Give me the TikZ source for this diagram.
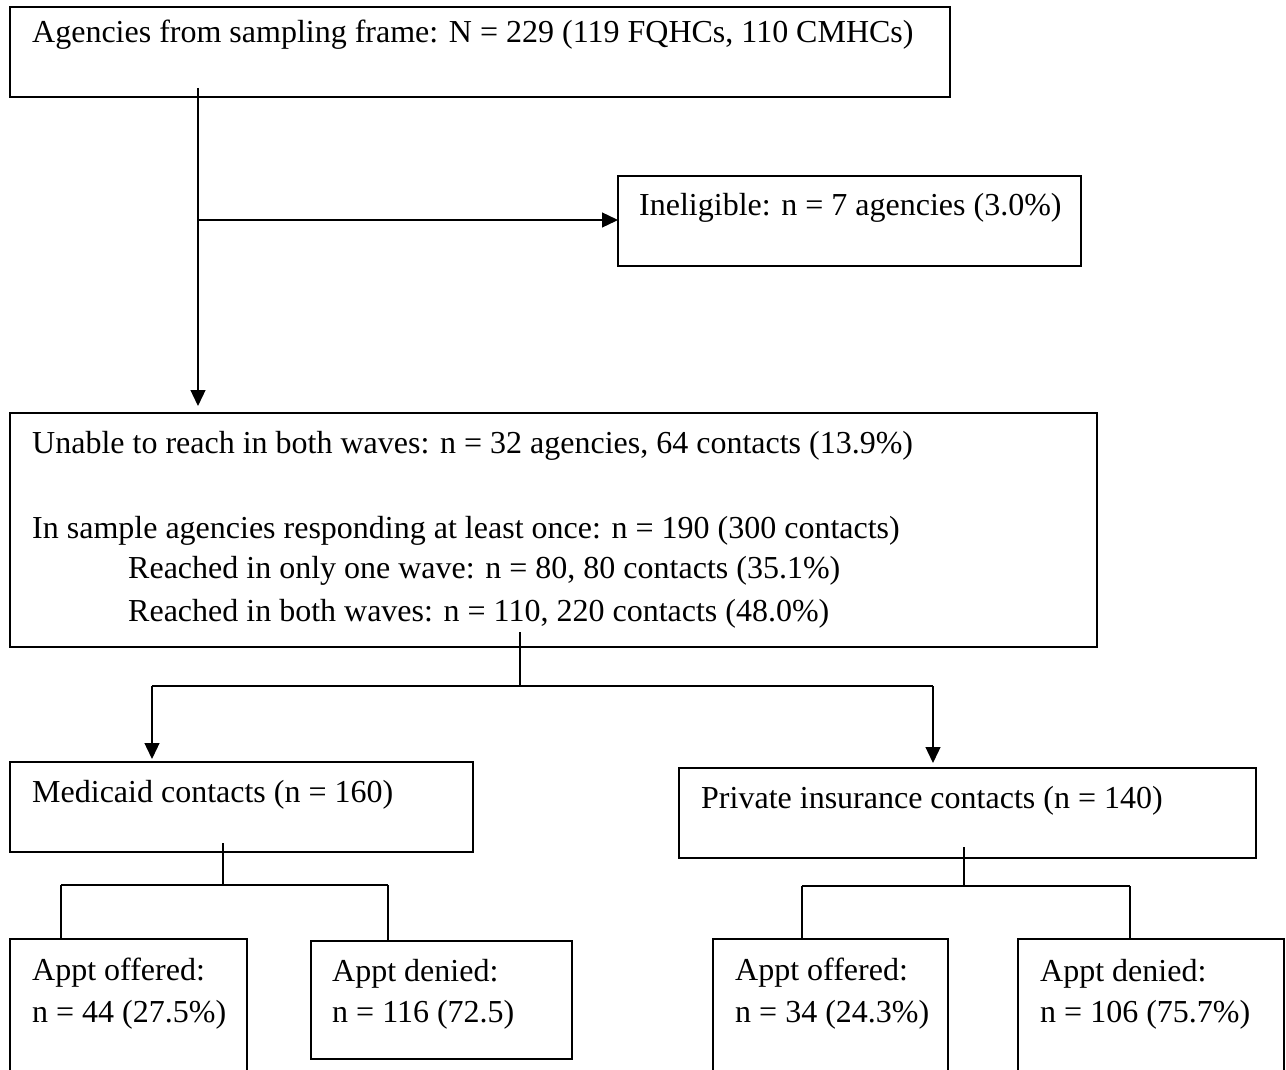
\documentclass[tikz,border=0pt]{standalone}
\usepackage{fontspec}
\setmainfont{Liberation Serif}
\usetikzlibrary{arrows.meta}
\begin{document}
\begin{tikzpicture}[x=1pt,y=-1pt,
  box/.style={draw, line width=2.6pt, rectangle, anchor=north west,
    inner sep=0pt, outer sep=0pt},
  lbl/.style={anchor=base west, inner sep=0pt, font=\fontsize{32}{38}\selectfont},
  link/.style={line width=1.3pt},
  arr/.style={link, -{Triangle[length=16pt,width=15pt]}}]
\useasboundingbox (0,0) rectangle (1286,1070);
\clip (0,0) rectangle (1286,1070);

% boxes
\node[box, minimum width=940pt, minimum height=90pt]  (frame) at (10,7)    {};
\node[box, minimum width=463pt, minimum height=90pt]  (inel)  at (618,176) {};
\node[box, minimum width=1087pt, minimum height=234pt] (reach) at (10,413) {};
\node[box, minimum width=463pt, minimum height=90pt]  (medi)  at (10,762)  {};
\node[box, minimum width=577pt, minimum height=90pt]  (priv)  at (679,768) {};
\node[box, minimum width=237pt, minimum height=160pt] (moff)  at (10,939)  {};
\node[box, minimum width=261pt, minimum height=118pt] (mden)  at (311,941) {};
\node[box, minimum width=235pt, minimum height=160pt] (poff)  at (713,939) {};
\node[box, minimum width=266pt, minimum height=160pt] (pden)  at (1018,939) {};

% texts
\node[lbl] (frameT) at (32,43) {Agencies from sampling frame: N = 229 (119 FQHCs, 110 CMHCs)};
\node[lbl] (inelT) at (639,215) {Ineligible: n = 7 agencies (3.0\%)};
\node[lbl] (reachA) at (32,453) {Unable to reach in both waves: n = 32 agencies, 64 contacts (13.9\%)};
\node[lbl] (reachB) at (32,538) {In sample agencies responding at least once: n = 190 (300 contacts)};
\node[lbl] (reachC) at (128,578) {Reached in only one wave: n = 80, 80 contacts (35.1\%)};
\node[lbl] (reachD) at (128,621) {Reached in both waves: n = 110, 220 contacts (48.0\%)};
\node[lbl] (mediT) at (32,802) {Medicaid contacts (n = 160)};
\node[lbl] (privT) at (701,808) {Private insurance contacts (n = 140)};
\node[lbl] (moffA) at (32,980) {Appt offered:};
\node[lbl] (moffB) at (32,1022) {n = 44 (27.5\%)};
\node[lbl] (mdenA) at (332,981) {Appt denied:};
\node[lbl] (mdenB) at (332,1022) {n = 116 (72.5)};
\node[lbl] (poffA) at (735,980) {Appt offered:};
\node[lbl] (poffB) at (735,1022) {n = 34 (24.3\%)};
\node[lbl] (pdenA) at (1040,981) {Appt denied:};
\node[lbl] (pdenB) at (1040,1022) {n = 106 (75.7\%)};

% connector points
\coordinate (t0) at (198,88);
\coordinate (t1) at (198,220);
\coordinate (r0) at (520,632);
\coordinate (r1) at (520,686);
\coordinate (rl) at (152,686);
\coordinate (rr) at (933,686);
\coordinate (m0) at (223,843);
\coordinate (m1) at (223,885);
\coordinate (ml) at (61,885);
\coordinate (mr) at (388,885);
\coordinate (p0) at (964,847);
\coordinate (p1) at (964,886);
\coordinate (pl) at (802,886);
\coordinate (pr) at (1130,886);

% connectors
\draw[arr, shorten >=7pt] (t0) -- (t0 |- reach.north);
\draw[arr] (t1) -- (inel.west |- t1);
\draw[link] (r0) -- (r1);
\draw[link] (rl) -- (rr);
\draw[arr, shorten >=3pt] (rl) -- (rl |- medi.north);
\draw[arr, shorten >=5pt] (rr) -- (rr |- priv.north);
\draw[link] (m0) -- (m1);
\draw[link] (ml) -- (mr);
\draw[link] (ml) -- (ml |- moff.north);
\draw[link] (mr) -- (mr |- mden.north);
\draw[link] (p0) -- (p1);
\draw[link] (pl) -- (pr);
\draw[link] (pl) -- (pl |- poff.north);
\draw[link] (pr) -- (pr |- pden.north);
\end{tikzpicture}
\end{document}
